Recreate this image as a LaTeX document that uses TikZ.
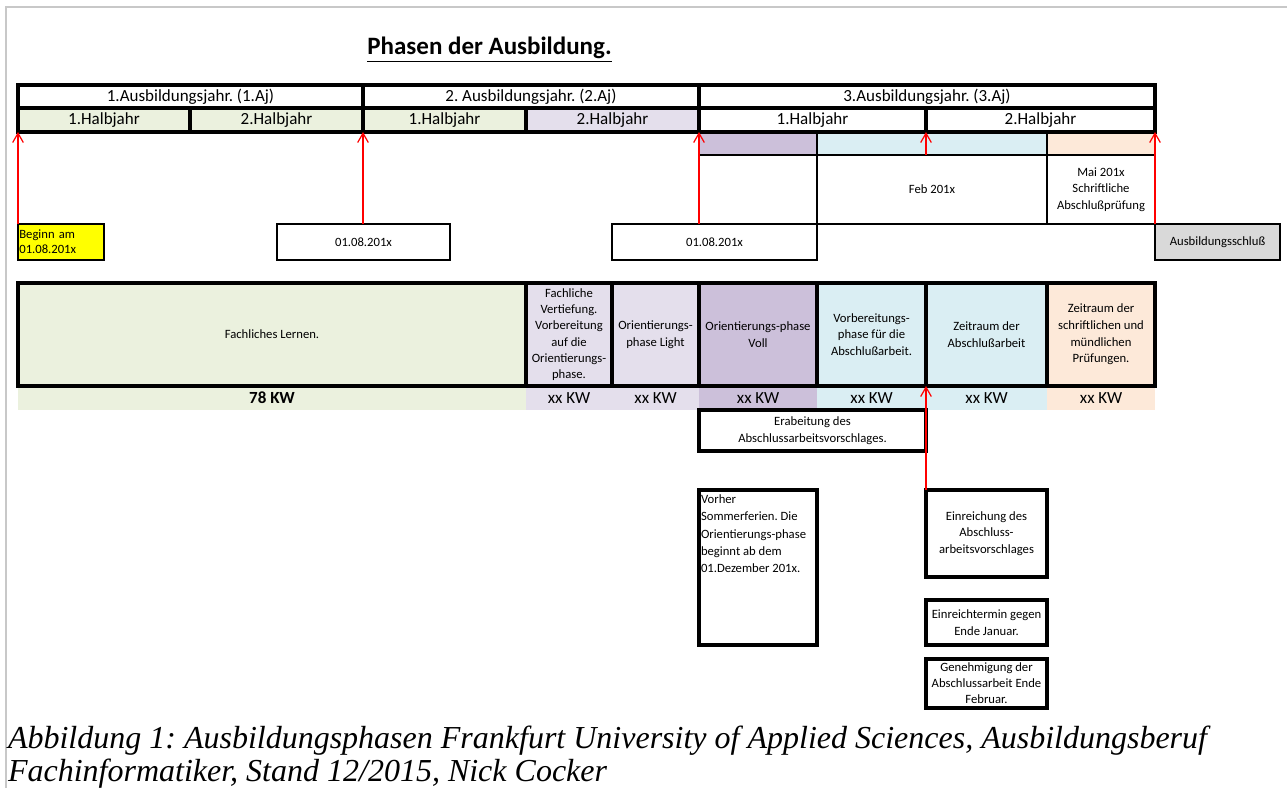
\documentclass[tikz,border=0pt]{standalone}
\usepackage{fontspec}
\setmainfont{Carlito}
\newfontfamily\abbfont{Liberation Serif}
\usepackage{tikz}
\usetikzlibrary{arrows.meta}
\definecolor{HalbGreen}{HTML}{EBF1DE}
\definecolor{HalbLila}{HTML}{E4DFEC}
\definecolor{VollLila}{HTML}{CCC0DA}
\definecolor{ArbeitBlue}{HTML}{DAEEF3}
\definecolor{PruefPeach}{HTML}{FDE9D9}
\definecolor{BeginYellow}{HTML}{FFFF00}
\definecolor{EndGray}{HTML}{D9D9D9}
\definecolor{FrameGray}{HTML}{C8C8C8}
\newcommand{\kleintext}{\fontsize{9.5}{12.5}\selectfont}
\newcommand{\grosstext}{\fontsize{12.75}{15}\selectfont}
\frenchspacing

\begin{document}
\begin{tikzpicture}[x=0.75pt,y=-0.75pt,
    every node/.style={inner sep=0pt,outer sep=0pt,anchor=north west},
    jahr/.style={draw,line width=2.4pt,minimum height=17.25pt,font=\grosstext},
    halb/.style={draw,line width=2.4pt,minimum height=18pt,font=\grosstext},
    band/.style={draw,line width=1pt,minimum height=17.25pt},
    monat/.style={draw,line width=1pt,minimum height=51.75pt,align=center,font=\kleintext},
    datum/.style={draw,line width=1.5pt,minimum height=27pt,font=\kleintext},
    phase/.style={draw,line width=2.4pt,minimum height=77.25pt,align=center,font=\kleintext},
    woche/.style={minimum height=18pt,font=\grosstext},
    notiz/.style={draw,line width=2.4pt,align=center,font=\kleintext},
    ar/.style={-{Straight Barb[length=7pt,width=8pt]},red,line width=0.9pt}]
  \useasboundingbox (0,0) rectangle (1287,788);
  \draw[FrameGray,line width=1.5pt] (6,788) -- (6,7) -- (1287,7);
  \node[anchor=base,font=\fontsize{18.75}{22}\selectfont\bfseries] (titel) at (489.5,55)
    {\underline{Phasen der Ausbildung.}};

  \node[band,fill=VollLila,minimum width=88.5pt] (b1) at (699,132) {};
  \node[band,fill=ArbeitBlue,minimum width=172.5pt] (b2) at (817,132) {};
  \node[band,fill=PruefPeach,minimum width=81pt] (b3) at (1047,132) {};
  \node[monat,minimum width=172.5pt] (feb) at (817,155) {Feb 201x};
  \node[monat,minimum width=81pt] (mai) at (1047,155) {Mai 201x\\Schriftliche\\Abschlußprüfung};

  \node[jahr,minimum width=258.75pt] (j1) at (18,85) {1.Ausbildungsjahr. (1.Aj)};
  \node[jahr,minimum width=252pt] (j2) at (363,85) {2. Ausbildungsjahr. (2.Aj)};
  \node[jahr,minimum width=342pt] (j3) at (699,85) {3.Ausbildungsjahr. (3.Aj)};
  \node[halb,fill=HalbGreen,minimum width=129pt] (h1) at (18,108) {1.Halbjahr};
  \node[halb,fill=HalbGreen,minimum width=129.75pt] (h2) at (190,108) {2.Halbjahr};
  \node[halb,fill=HalbGreen,minimum width=122.25pt] (h3) at (363,108) {1.Halbjahr};
  \node[halb,fill=HalbLila,minimum width=129.75pt] (h4) at (526,108) {2.Halbjahr};
  \node[halb,minimum width=170.25pt] (h5) at (699,108) {1.Halbjahr};
  \node[halb,minimum width=171.75pt] (h6) at (926,108) {2.Halbjahr};

  \node[datum,fill=BeginYellow,align=left,text width=62.5pt,inner xsep=1pt,
        font=\fontsize{9.5}{11.25}\selectfont] (beginn) at (18,224) {Beginn am\\01.08.201x};
  \node[datum,minimum width=129.75pt] (d2) at (277,224) {01.08.201x};
  \node[datum,minimum width=153.75pt] (d3) at (612,224) {01.08.201x};
  \node[datum,fill=EndGray,minimum width=93.75pt] (ende) at (1155,224) {Ausbildungsschluß};

  \node[woche,fill=HalbGreen,minimum width=381pt,font=\grosstext\bfseries] (w1) at (18,386) {78 KW};
  \node[woche,fill=HalbLila,minimum width=64.5pt] (w2) at (526,386) {xx KW};
  \node[woche,fill=HalbLila,minimum width=65.25pt] (w3) at (612,386) {xx KW};
  \node[woche,fill=VollLila,minimum width=88.5pt] (w4) at (699,386) {xx KW};
  \node[woche,fill=ArbeitBlue,minimum width=81.75pt] (w5) at (817,386) {xx KW};
  \node[woche,fill=ArbeitBlue,minimum width=90.75pt] (w6) at (926,386) {xx KW};
  \node[woche,fill=PruefPeach,minimum width=81pt] (w7) at (1047,386) {xx KW};

  \node[phase,fill=HalbGreen,minimum width=381pt] (p1) at (18,283) {Fachliches Lernen.};
  \node[phase,fill=HalbLila,minimum width=64.5pt,font=\fontsize{9.5}{12.2}\selectfont] (p2) at (526,283)
    {Fachliche\\Vertiefung.\\Vorbereitung\\auf die\\Orientierungs-\\phase.};
  \node[phase,fill=HalbLila,minimum width=65.25pt] (p3) at (612,283) {Orientierungs-\\phase Light};
  \node[phase,fill=VollLila,minimum width=88.5pt] (p4) at (699,283) {Orientierungs-phase\\Voll};
  \node[phase,fill=ArbeitBlue,minimum width=81.75pt] (p5) at (817,283) {Vorbereitungs-\\phase für die\\Abschlußarbeit.};
  \node[phase,fill=ArbeitBlue,minimum width=90.75pt] (p6) at (926,283) {Zeitraum der\\Abschlußarbeit};
  \node[phase,fill=PruefPeach,minimum width=81pt] (p7) at (1047,283) {Zeitraum der\\schriftlichen und\\mündlichen\\Prüfungen.};

  \node[notiz,minimum width=170.25pt,minimum height=30.75pt] (erab) at (699,410) {Erabeitung des\\Abschlussarbeitsvorschlages.};
  \node[notiz,inner xsep=1.5pt,inner ysep=3.5pt,font=\fontsize{9.5}{13}\selectfont] (vorher) at (699,490)
    {\parbox[t][109.25pt][t]{85.5pt}{\raggedright Vorher\\Sommerferien. Die\\Orientierungs-phase\\beginnt ab dem\\01.Dezember 201x.}};
  \node[notiz,minimum width=90.75pt,minimum height=65.25pt] (einr) at (926,490) {Einreichung des\\Abschluss-\\arbeitsvorschlages};
  \node[notiz,minimum width=90.75pt,minimum height=33.75pt] (termin) at (926,600) {Einreichtermin gegen\\Ende Januar.};
  \node[notiz,minimum width=90.75pt,minimum height=36.75pt,font=\fontsize{9.5}{12}\selectfont] (genehm) at (926,659)
    {Genehmigung der\\Abschlussarbeit Ende\\Februar.};

  \draw[ar] (beginn.north west) -- (h1.south west);
  \draw[ar] (h3.south west |- d2.north) -- (h3.south west);
  \draw[ar] (h5.south west |- d3.north) -- (h5.south west);
  \draw[ar] (h6.south west |- b2.south) -- (h6.south west);
  \draw[ar] (ende.north west) -- (h6.south east);
  \draw[ar] (einr.north west) -- (p6.south west);

  \node[align=left,font=\abbfont\itshape\fontsize{24}{24.75}\selectfont] (abb) at (8,726)
    {Abbildung 1: Ausbildungsphasen Frankfurt University of Applied Sciences, Ausbildungsberuf\\
     Fachinformatiker, Stand 12/2015, Nick Cocker};
\end{tikzpicture}
\end{document}
